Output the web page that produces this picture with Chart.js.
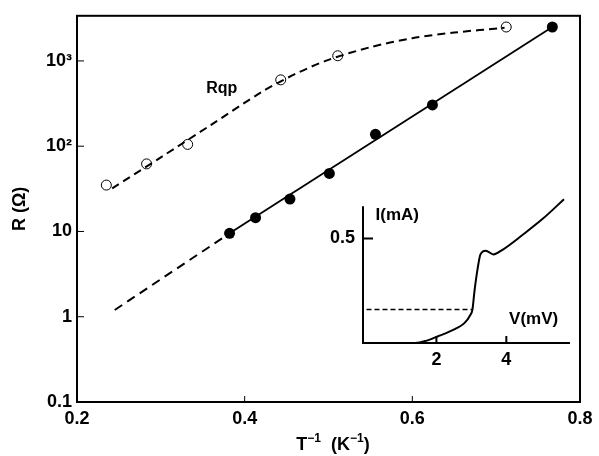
<!DOCTYPE html>
<html>
<head>
<meta charset="utf-8">
<script src="https://cdn.jsdelivr.net/npm/chart.js@4.4.1/dist/chart.umd.min.js"></script>
<style>
body{margin:0;background:#fff;}
#wrap{position:relative;width:599px;height:456px;}
#mainChart{position:absolute;left:0;top:0;}
#insetChart{position:absolute;left:320px;top:180px;}
</style>
</head>
<body>
<div id="wrap">
<canvas id="mainChart" width="599" height="456"></canvas>
<canvas id="insetChart" width="260" height="190"></canvas>
</div>
<script>
//// main plot: R against 1/T
const aInvTOpen=[0.235,0.283,0.332,0.443,0.511,0.712];
const aROpen=[35,62,105,600,1150,2500];
const aInvTCurve=[0.242,0.30,0.36,0.42,0.46,0.50,0.55,0.60,0.65,0.71];
const aRCurve=[32,74,178,430,700,1030,1450,1850,2150,2450];
const aInvTFilled=[0.382,0.413,0.454,0.501,0.556,0.624,0.767];
const aRFilled=[9.5,14.5,24,48,138,305,2500];
const aInvTFit=[0.382,0.767];
const aRFit=[9.5,2500];
const aInvTExt=[0.245,0.382];
const aRExt=[1.2,9.5];
const aYTicks=[0.1,1,10,100,1000];
const aYTickLabels=["0.1","1","10","10²","10³"];
const aXTicks=[0.2,0.4,0.6,0.8];
const aXTickLabels=["0.2","0.4","0.6","0.8"];

//// inset: I-V curve
const aV=[0,1.4,1.7,2.03,2.54,2.8,2.97,3.03,3.09,3.18,3.26,3.41,3.63,3.89,4.47,5.04,5.65];
const aI=[0,0,0.01,0.031,0.068,0.095,0.134,0.16,0.25,0.357,0.424,0.442,0.424,0.446,0.518,0.594,0.688];
const aVDash=[0,3.03];
const aIDash=[0.16,0.16];
const aVTicks=[2,4];
const aVTickLabels=["2","4"];
const aITicks=[0.5];
const aITickLabels=["0.5"];

const sFont="'Liberation Sans', Arial, sans-serif";

function toXY(aX,aY){
    return aX.map((x,i)=>({x:x,y:aY[i]}));
}

function drawInwardTicks(ctx,scale,aVals,bHorizontal,nLen,edge){
    ctx.save();
    ctx.strokeStyle="#000";
    ctx.lineWidth=1;
    aVals.forEach(v=>{
        const p=scale.getPixelForValue(v);
        ctx.beginPath();
        if(bHorizontal){
            ctx.moveTo(p,edge);
            ctx.lineTo(p,edge-nLen);
        }else{
            ctx.moveTo(edge,p);
            ctx.lineTo(edge+nLen,p);
        }
        ctx.stroke();
    });
    ctx.restore();
}

// text with raised parts, [text, bSup]
function drawRichText(ctx,aParts,xCenter,yBase,nSize,nSupSize,nRise){
    const fMain="bold "+nSize+"px "+sFont;
    const fSup="bold "+nSupSize+"px "+sFont;
    let nWidth=0;
    aParts.forEach(p=>{
        ctx.font=p[1]?fSup:fMain;
        nWidth+=ctx.measureText(p[0]).width;
    });
    let x=xCenter-nWidth/2;
    ctx.textAlign="left";
    ctx.textBaseline="alphabetic";
    aParts.forEach(p=>{
        ctx.font=p[1]?fSup:fMain;
        ctx.fillText(p[0],x,p[1]?yBase-nRise:yBase);
        x+=ctx.measureText(p[0]).width;
    });
}

const mainFrame={
    id:"mainFrame",
    afterDraw(chart){
        const ctx=chart.ctx;
        const a=chart.chartArea;
        ctx.save();
        ctx.strokeStyle="#000";
        ctx.lineWidth=2;
        ctx.strokeRect(a.left,a.top,a.right-a.left,a.bottom-a.top);
        ctx.restore();
        drawInwardTicks(ctx,chart.scales.x,aXTicks.slice(1,-1),true,6,a.bottom);
        drawInwardTicks(ctx,chart.scales.y,aYTicks.slice(1),false,7,a.left);
        ctx.save();
        ctx.fillStyle="#000";
        ctx.font="bold 16px "+sFont;
        ctx.textAlign="center";
        ctx.textBaseline="middle";
        ctx.fillText("Rqp",chart.scales.x.getPixelForValue(0.3726),chart.scales.y.getPixelForValue(475));
        drawRichText(ctx,[["T",false],["−1",true],["  (K",false],["−1",true],[")",false]],333,450,18,12,8);
        ctx.restore();
    }
};

new Chart(document.getElementById("mainChart").getContext("2d"),{
    type:"scatter",
    data:{
        datasets:[
            {
                data:toXY(aInvTCurve,aRCurve),
                showLine:true,
                borderColor:"#000",
                borderWidth:2,
                borderDash:[8,5],
                pointRadius:0,
                tension:0.3
            },
            {
                data:toXY(aInvTOpen,aROpen),
                pointRadius:5,
                pointBackgroundColor:"#fff",
                pointBorderColor:"#000",
                pointBorderWidth:1
            },
            {
                data:toXY(aInvTExt,aRExt),
                showLine:true,
                borderColor:"#000",
                borderWidth:2,
                borderDash:[9,6],
                pointRadius:0
            },
            {
                data:toXY(aInvTFit,aRFit),
                showLine:true,
                borderColor:"#000",
                borderWidth:1.8,
                pointRadius:0
            },
            {
                data:toXY(aInvTFilled,aRFilled),
                pointRadius:5.5,
                pointBackgroundColor:"#000",
                pointBorderColor:"#000",
                pointBorderWidth:0
            }
        ]
    },
    options:{
        responsive:false,
        animation:false,
        devicePixelRatio:1,
        layout:{padding:{top:9,right:19,left:0,bottom:0}},
        plugins:{legend:{display:false},tooltip:{enabled:false}},
        scales:{
            x:{
                type:"linear",
                min:0.2,
                max:0.8,
                grid:{display:false,drawTicks:false},
                border:{display:false},
                afterBuildTicks:scale=>{scale.ticks=aXTicks.map(v=>({value:v}));},
                afterFit:scale=>{scale.height=54;},
                ticks:{
                    autoSkip:false,
                    maxRotation:0,
                    padding:6,
                    color:"#000",
                    font:{family:sFont,size:18,weight:"bold"},
                    callback:(v,i)=>aXTickLabels[i]
                }
            },
            y:{
                type:"logarithmic",
                min:0.1,
                max:3383,
                grid:{display:false,drawTicks:false},
                border:{display:false},
                afterBuildTicks:scale=>{scale.ticks=aYTicks.map(v=>({value:v}));},
                afterFit:scale=>{scale.width=77;},
                ticks:{
                    autoSkip:false,
                    padding:5,
                    color:"#000",
                    font:{family:sFont,size:18,weight:"bold"},
                    callback:(v,i)=>aYTickLabels[i]
                },
                title:{
                    display:true,
                    text:"R (Ω)",
                    color:"#000",
                    font:{family:sFont,size:18,weight:"bold"},
                    padding:{top:9,bottom:0}
                }
            }
        }
    },
    plugins:[mainFrame]
});

const insetAxes={
    id:"insetAxes",
    afterDraw(chart){
        const ctx=chart.ctx;
        const a=chart.chartArea;
        const sx=chart.scales.x;
        const sy=chart.scales.y;
        ctx.save();
        ctx.strokeStyle="#000";
        ctx.lineWidth=2;
        ctx.beginPath();
        ctx.moveTo(a.left,sy.getPixelForValue(0.654));
        ctx.lineTo(a.left,a.bottom);
        ctx.lineTo(a.right-1,a.bottom);
        ctx.stroke();
        aVTicks.forEach(v=>{
            const p=sx.getPixelForValue(v);
            ctx.beginPath();ctx.moveTo(p,a.bottom);ctx.lineTo(p,a.bottom-7);ctx.stroke();
        });
        aITicks.forEach(v=>{
            const p=sy.getPixelForValue(v);
            ctx.beginPath();ctx.moveTo(a.left,p);ctx.lineTo(a.left+10,p);ctx.stroke();
        });
        ctx.fillStyle="#000";
        ctx.font="bold 17px "+sFont;
        ctx.textAlign="center";
        ctx.textBaseline="middle";
        ctx.fillText("I(mA)",sx.getPixelForValue(0.88),sy.getPixelForValue(0.61));
        ctx.fillText("V(mV)",sx.getPixelForValue(4.78),sy.getPixelForValue(0.112));
        ctx.restore();
    }
};

new Chart(document.getElementById("insetChart").getContext("2d"),{
    type:"scatter",
    data:{
        datasets:[
            {
                data:toXY(aV,aI),
                showLine:true,
                borderColor:"#000",
                borderWidth:2,
                pointRadius:0,
                cubicInterpolationMode:"monotone",
                clip:8
            },
            {
                data:toXY(aVDash,aIDash),
                showLine:true,
                borderColor:"#000",
                borderWidth:1.5,
                borderDash:[5,3],
                pointRadius:0
            }
        ]
    },
    options:{
        responsive:false,
        animation:false,
        devicePixelRatio:1,
        layout:{padding:{top:9,right:9,left:0,bottom:0}},
        plugins:{legend:{display:false},tooltip:{enabled:false}},
        scales:{
            x:{
                type:"linear",
                min:-0.1,
                max:5.85,
                grid:{display:false,drawTicks:false},
                border:{display:false},
                afterBuildTicks:scale=>{scale.ticks=aVTicks.map(v=>({value:v}));},
                afterFit:scale=>{scale.height=27;},
                ticks:{
                    autoSkip:false,
                    maxRotation:0,
                    padding:6,
                    color:"#000",
                    font:{family:sFont,size:18,weight:"bold"},
                    callback:(v,i)=>aVTickLabels[i]
                }
            },
            y:{
                type:"linear",
                min:0,
                max:0.69,
                grid:{display:false,drawTicks:false},
                border:{display:false},
                afterBuildTicks:scale=>{scale.ticks=aITicks.map(v=>({value:v}));},
                afterFit:scale=>{scale.width=43;},
                ticks:{
                    autoSkip:false,
                    padding:8,
                    color:"#000",
                    font:{family:sFont,size:18,weight:"bold"},
                    callback:(v,i)=>aITickLabels[i]
                }
            }
        }
    },
    plugins:[insetAxes]
});
</script>
</body>
</html>
